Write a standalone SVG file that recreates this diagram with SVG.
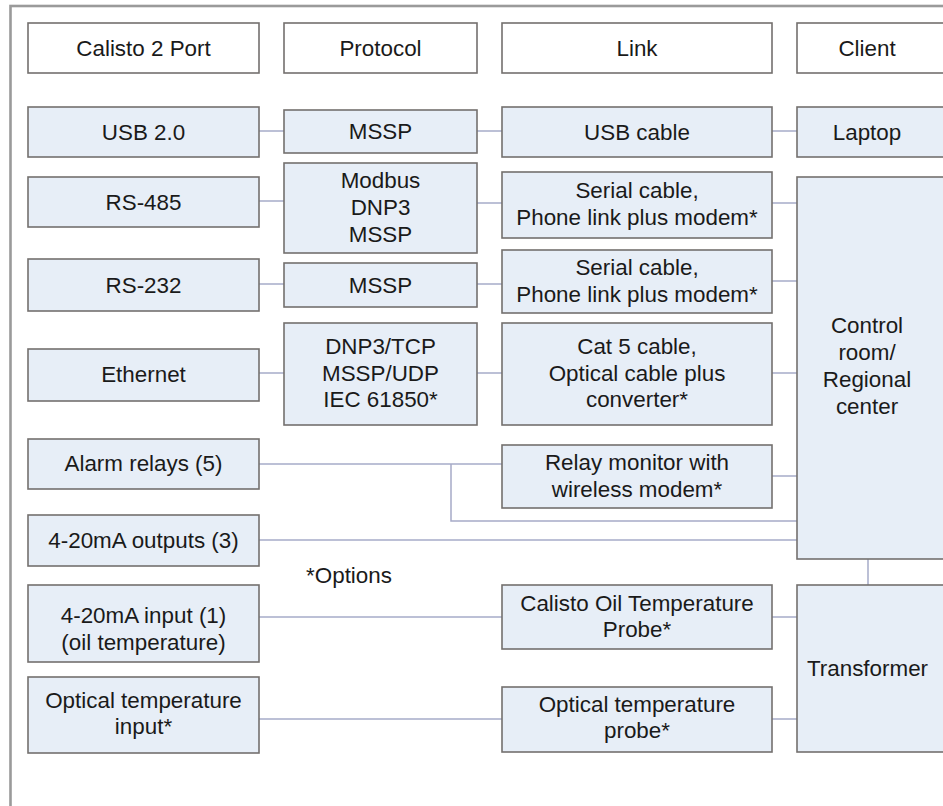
<svg xmlns="http://www.w3.org/2000/svg" width="943" height="806" viewBox="0 0 943 806">
<style>
.bx{fill:#e7eef7;stroke:#74706e;stroke-width:1.6}
.hd{fill:#ffffff;stroke:#74706e;stroke-width:1.6}
text{font-family:"Liberation Sans",Arial,sans-serif;font-size:22.4px;fill:#1a1a1a;text-anchor:middle}
.cn line,.cn polyline{stroke:#a6abc8;stroke-width:1.5;fill:none}
</style>
<rect x="0" y="0" width="943" height="806" fill="#ffffff"/>
<rect x="10.5" y="6" width="1000" height="900" fill="none" stroke="#9a9a9a" stroke-width="2.6"/>
<g class="cn" id="connectors">
<line x1="259" y1="131" x2="284" y2="131"/>
<line x1="477" y1="131" x2="502" y2="131"/>
<line x1="772" y1="131" x2="797" y2="131"/>
<line x1="259" y1="201" x2="284" y2="201"/>
<line x1="477" y1="203" x2="502" y2="203"/>
<line x1="772" y1="203" x2="797" y2="203"/>
<line x1="259" y1="284" x2="284" y2="284"/>
<line x1="477" y1="284" x2="502" y2="284"/>
<line x1="772" y1="281" x2="797" y2="281"/>
<line x1="259" y1="373" x2="284" y2="373"/>
<line x1="477" y1="373" x2="502" y2="373"/>
<line x1="772" y1="373" x2="797" y2="373"/>
<line x1="259" y1="464" x2="502" y2="464"/>
<polyline points="451,464 451,521 797,521"/>
<line x1="772" y1="476" x2="797" y2="476"/>
<line x1="259" y1="540" x2="797" y2="540"/>
<line x1="868" y1="559" x2="868" y2="585"/>
<line x1="259" y1="617" x2="502" y2="617"/>
<line x1="772" y1="617" x2="797" y2="617"/>
<line x1="259" y1="719" x2="502" y2="719"/>
<line x1="772" y1="719" x2="797" y2="719"/>
</g>
<g id="h-port"><rect class="hd" x="28" y="23" width="231" height="50"/><text x="143.5" y="55.5">Calisto 2 Port</text></g>
<g id="h-protocol"><rect class="hd" x="284" y="23" width="193" height="50"/><text x="380.5" y="55.5">Protocol</text></g>
<g id="h-link"><rect class="hd" x="502" y="23" width="270" height="50"/><text x="637" y="55.5">Link</text></g>
<g id="h-client"><rect class="hd" x="797" y="23" width="160" height="50"/><text x="867" y="55.5">Client</text></g>

<g id="usb"><rect class="bx" x="28" y="107" width="231" height="50"/><text x="143.5" y="139.5">USB 2.0</text></g>
<g id="mssp1"><rect class="bx" x="284" y="110" width="193" height="43"/><text x="380.5" y="139">MSSP</text></g>
<g id="usbcable"><rect class="bx" x="502" y="107" width="270" height="50"/><text x="637" y="139.5">USB cable</text></g>
<g id="laptop"><rect class="bx" x="797" y="107" width="160" height="50"/><text x="867" y="139.5">Laptop</text></g>

<g id="rs485"><rect class="bx" x="28" y="177" width="231" height="50"/><text x="143.5" y="209.5">RS-485</text></g>
<g id="modbus"><rect class="bx" x="284" y="163" width="193" height="90"/><text x="380.5" y="188">Modbus</text><text x="380.5" y="215">DNP3</text><text x="380.5" y="242">MSSP</text></g>
<g id="serial1"><rect class="bx" x="502" y="172" width="270" height="66"/><text x="637" y="198">Serial cable,</text><text x="637" y="224.5">Phone link plus modem*</text></g>
<g id="control"><rect class="bx" x="797" y="177" width="160" height="382"/><text x="867" y="333">Control</text><text x="867" y="360">room/</text><text x="867" y="387">Regional</text><text x="867" y="414">center</text></g>

<g id="rs232"><rect class="bx" x="28" y="259" width="231" height="52"/><text x="143.5" y="292.5">RS-232</text></g>
<g id="mssp2"><rect class="bx" x="284" y="263" width="193" height="44"/><text x="380.5" y="292.5">MSSP</text></g>
<g id="serial2"><rect class="bx" x="502" y="250" width="270" height="63"/><text x="637" y="274.5">Serial cable,</text><text x="637" y="301.5">Phone link plus modem*</text></g>

<g id="ethernet"><rect class="bx" x="28" y="349" width="231" height="52"/><text x="143.5" y="382">Ethernet</text></g>
<g id="dnp3tcp"><rect class="bx" x="284" y="323" width="193" height="102"/><text x="380.5" y="353.5">DNP3/TCP</text><text x="380.5" y="380.5">MSSP/UDP</text><text x="380.5" y="407">IEC 61850*</text></g>
<g id="cat5"><rect class="bx" x="502" y="323" width="270" height="102"/><text x="637" y="353.5">Cat 5 cable,</text><text x="637" y="380.5">Optical cable plus</text><text x="637" y="407">converter*</text></g>

<g id="alarm"><rect class="bx" x="28" y="439" width="231" height="50"/><text x="143.5" y="471">Alarm relays (5)</text></g>
<g id="relaymon"><rect class="bx" x="502" y="445" width="270" height="63"/><text x="637" y="470">Relay monitor with</text><text x="637" y="497">wireless modem*</text></g>

<g id="out420"><rect class="bx" x="28" y="515" width="231" height="51"/><text x="143.5" y="548">4-20mA outputs (3)</text></g>
<text x="349" y="583">*Options</text>

<g id="in420"><rect class="bx" x="28" y="585" width="231" height="77"/><text x="143.5" y="623">4-20mA input (1)</text><text x="143.5" y="650">(oil temperature)</text></g>
<g id="oilprobe"><rect class="bx" x="502" y="585" width="270" height="64"/><text x="637" y="610.5">Calisto Oil Temperature</text><text x="637" y="637">Probe*</text></g>
<g id="transformer"><rect class="bx" x="797" y="585" width="160" height="167"/><text x="867.5" y="675.5">Transformer</text></g>

<g id="optin"><rect class="bx" x="28" y="677" width="231" height="76"/><text x="143.5" y="708">Optical temperature</text><text x="143.5" y="734">input*</text></g>
<g id="optprobe"><rect class="bx" x="502" y="687" width="270" height="65"/><text x="637" y="711.5">Optical temperature</text><text x="637" y="738">probe*</text></g>
</svg>
